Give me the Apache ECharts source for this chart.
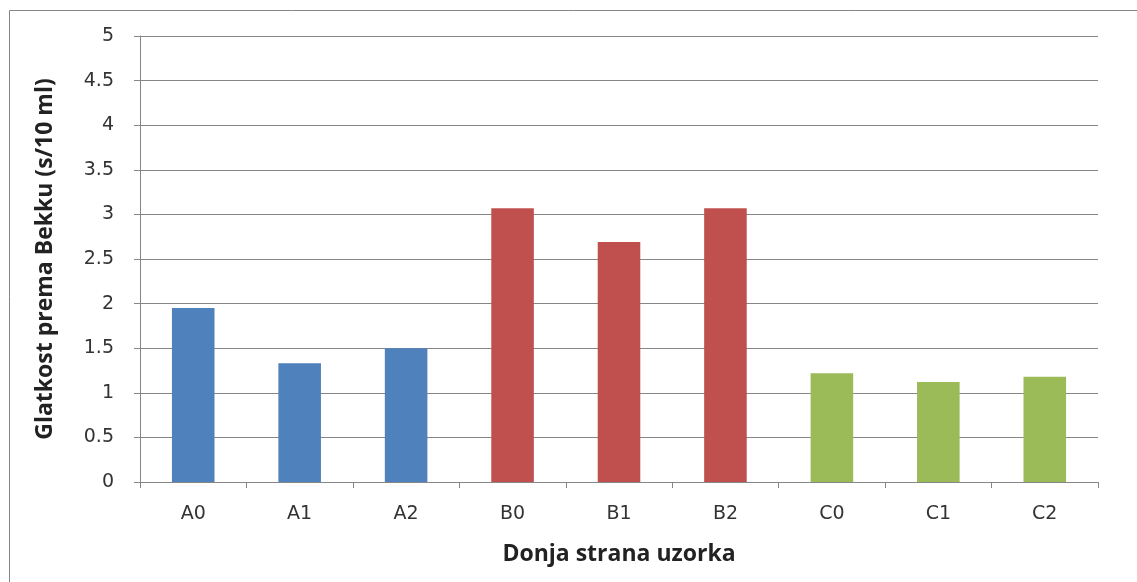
<!DOCTYPE html>
<html>
<head>
<meta charset="utf-8">
<script src="https://cdn.jsdelivr.net/npm/echarts@6/dist/echarts.min.js"></script>
<style>
    html, body { margin: 0; padding: 0; background: #fff; }
    #chart { width: 1137px; height: 582px; }
</style>
</head>
<body>
<div id="chart"></div>
<script>
var categories = ['A0', 'A1', 'A2', 'B0', 'B1', 'B2', 'C0', 'C1', 'C2'];
var values = [1.95, 1.33, 1.5, 3.07, 2.69, 3.07, 1.22, 1.12, 1.18];
var yTitle = 'Glatkost prema Bekku (s/10 ml)';
var xTitle = 'Donja strana uzorka';

var groupColor = { A: '#4F81BD', B: '#C0504D', C: '#9BBB59' };
var labelFont = '"DejaVu Sans", sans-serif';
var titleFont = '"Open Sans", "Noto Sans", sans-serif';

var myChart = echarts.init(document.getElementById('chart'));

var barData = values.map(function (v, i) {
    return {
        value: v,
        itemStyle: { color: groupColor[categories[i].charAt(0)] }
    };
});

var option = {
    animation: false,
    graphic: [{
        type: 'rect',
        left: 7,
        top: 8,
        shape: { width: 1140, height: 590 },
        style: { fill: 'none', stroke: '#868686', lineWidth: 1 }
    }],
    grid: {
        left: 140,
        right: 39,
        top: 36,
        bottom: 100
    },
    xAxis: {
        type: 'category',
        data: categories,
        name: xTitle,
        nameLocation: 'middle',
        nameGap: 61,
        nameTextStyle: { fontFamily: titleFont, fontSize: 23, fontWeight: 'bold', color: '#222' },
        axisLine: { lineStyle: { color: '#868686' } },
        axisTick: { show: true, length: 6, lineStyle: { color: '#868686' } },
        axisLabel: { fontFamily: labelFont, fontSize: 19, color: '#333', margin: 23 }
    },
    yAxis: {
        type: 'value',
        min: 0,
        max: 5,
        interval: 0.5,
        name: yTitle,
        nameLocation: 'middle',
        nameGap: 83,
        nameTextStyle: { fontFamily: titleFont, fontSize: 23, fontWeight: 'bold', color: '#222' },
        axisLine: { show: true, lineStyle: { color: '#868686' } },
        axisTick: { show: true, length: 6, lineStyle: { color: '#868686' } },
        axisLabel: { fontFamily: labelFont, fontSize: 19, color: '#333', margin: 26 },
        splitLine: { lineStyle: { color: '#868686', width: 1 } }
    },
    series: [{
        type: 'bar',
        barWidth: '40%',
        data: barData
    }]
};
myChart.setOption(option);
</script>
</body>
</html>
